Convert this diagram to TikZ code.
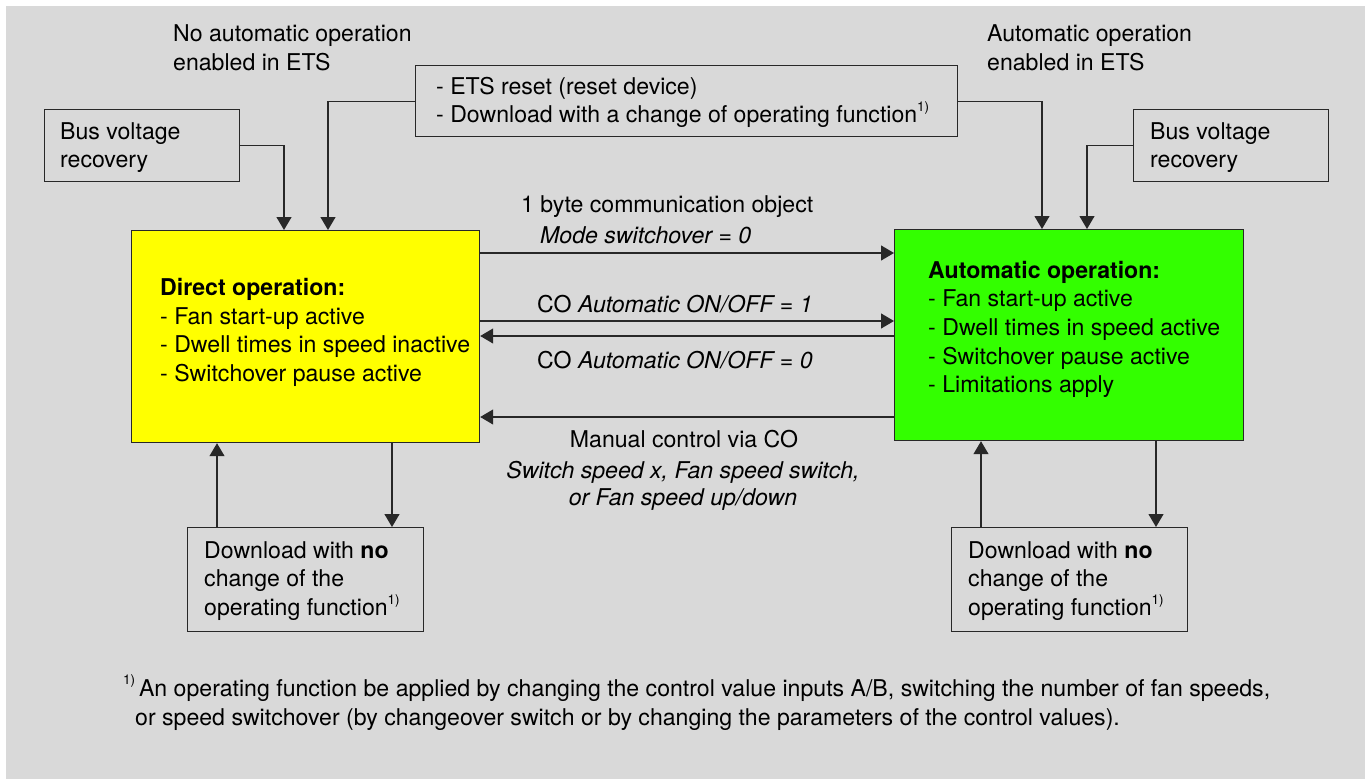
\documentclass[tikz,border=0pt]{standalone}
\usepackage{fontspec}
\setmainfont{TeX Gyre Heros}
\usetikzlibrary{arrows.meta}
\definecolor{bg}{RGB}{217,217,217}
\definecolor{ylw}{RGB}{255,255,0}
\definecolor{grn}{RGB}{51,255,0}
\definecolor{ln}{RGB}{40,40,40}
\newcommand{\fnmark}{\raisebox{0.5em}{\fontsize{13.5}{13.5}\selectfont 1)}}
\begin{document}
\begin{tikzpicture}[x=1pt,y=-1pt,
  every node/.style={font=\fontsize{23.1}{28.7}\selectfont, inner sep=0pt, text=black},
  box/.style={draw=ln, line width=1.2pt, rectangle, inner sep=0pt, anchor=north west, fill=bg},
  txt/.style={align=left, anchor=west},
  arr/.style={draw=ln, line width=1.2pt, -{Triangle[length=13pt,width=15pt]}}]
\useasboundingbox (0,0) rectangle (1371,779);
\fill[white] (0,0) rectangle (1371,779);
\fill[bg] (6,6) rectangle (1365,779);

% titles
\node[txt] (tl) at (173,47.5) {No automatic operation\\enabled in ETS};
\node[txt] (tr) at (987,47.5) {Automatic operation\\enabled in ETS};

% boxes
\node[box, minimum width=542, minimum height=71] (ets) at (415,65) {};
\node[txt] (etst) at (436,102.5) {- ETS reset (reset device)\\- Download with a change of operating function\fnmark};

\node[box, minimum width=195, minimum height=72] (busL) at (44,109) {};
\node[txt] (busLt) at (60,147.5) {Bus voltage\\recovery};
\node[box, minimum width=195, minimum height=72] (busR) at (1133,109) {};
\node[txt] (busRt) at (1150,147.5) {Bus voltage\\recovery};

\node[box, fill=ylw, minimum width=348, minimum height=212] (direct) at (131,230) {};
\node[txt] (directt) at (160,332.5) {\textbf{Direct operation:}\\- Fan start-up active\\- Dwell times in speed inactive\\- Switchover pause active};

\node[box, fill=grn, minimum width=349, minimum height=211] (auto) at (894,229) {};
\node[txt] (autot) at (928,329.5) {\textbf{Automatic operation:}\\- Fan start-up active\\- Dwell times in speed active\\- Switchover pause active\\- Limitations apply};

\node[box, minimum width=236, minimum height=104] (dlL) at (187,527) {};
\node[txt] (dlLt) at (204,581) {Download with \textbf{no}\\change of the\\operating function\fnmark};
\node[box, minimum width=236, minimum height=104] (dlR) at (951,527) {};
\node[txt] (dlRt) at (968,581) {Download with \textbf{no}\\change of the\\operating function\fnmark};

% top connectors
\draw[arr] (busL.east) -| ([xshift=153pt]direct.north west);
\draw[arr] (ets.west) -| ([xshift=197pt]direct.north west);
\draw[arr] (ets.east) -| ([xshift=148pt]auto.north west);
\draw[arr] (busR.west) -| ([xshift=193pt]auto.north west);

% horizontal connectors
\coordinate (h1) at ([yshift=-23pt]direct.north east);
\coordinate (h2) at ([yshift=-91pt]direct.north east);
\coordinate (h3) at ([yshift=-106pt]direct.north east);
\coordinate (h4) at ([yshift=-187pt]direct.north east);
\draw[arr] (h1) -- (h1 -| auto.west);
\draw[arr] (h2) -- (h2 -| auto.west);
\draw[arr] (h3 -| auto.west) -- (h3);
\draw[arr] (h4 -| auto.west) -- (h4);

\node[txt] (l1) at (521,207) {1 byte communication object};
\node[txt] (l2) at (540,235) {\itshape Mode switchover = 0};
\node[txt] (l3) at (537,304) {CO \textit{Automatic ON/OFF = 1}};
\node[txt] (l4) at (537,360) {CO \textit{Automatic ON/OFF = 0}};
\node (l5) at (684,439) {Manual control via CO};
\node (l6) at (683,472) {\itshape Switch speed x, Fan speed switch,};
\node (l7) at (683,500) {\itshape or Fan speed up/down};

% bottom connectors
\coordinate (bL1) at ([xshift=30pt]dlL.north west);
\coordinate (bL2) at ([xshift=205pt]dlL.north west);
\draw[arr] (bL1) -- (bL1 |- direct.south);
\draw[arr] (bL2 |- direct.south) -- (bL2);
\coordinate (bR1) at ([xshift=30pt]dlR.north west);
\coordinate (bR2) at ([xshift=205pt]dlR.north west);
\draw[arr] (bR1) -- (bR1 |- auto.south);
\draw[arr] (bR2 |- auto.south) -- (bR2);

% footnote
\node[txt] (fn) at (123,702.5) {\fnmark\,An operating function be applied by changing the control value inputs A/B, switching the number of fan speeds,\\\hspace*{12pt}or speed switchover (by changeover switch or by changing the parameters of the control values).};
\end{tikzpicture}
\end{document}
